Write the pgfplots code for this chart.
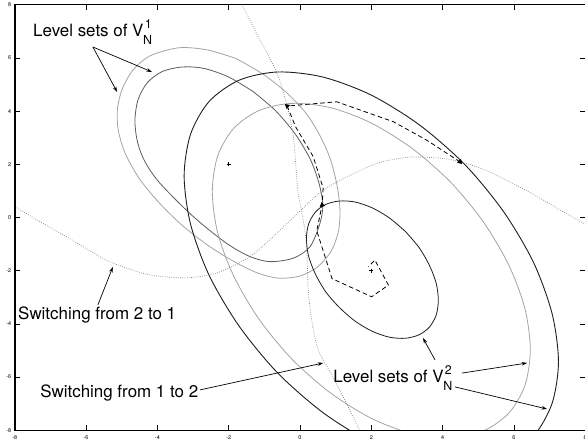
\documentclass[border=0pt]{standalone}
\usepackage{fontspec}
\setmainfont{TeX Gyre Heros}
\usepackage{pgfplots}
\pgfplotsset{compat=1.18}
\usetikzlibrary{arrows.meta}

\definecolor{darkline}{gray}{0.12}
\definecolor{midline}{gray}{0.36}
\definecolor{lightline}{gray}{0.64}
\definecolor{dotline}{gray}{0.50}

% label with stacked super/subscript, as V^k_N
\newcommand{\VN}[1]{V\kern-0.3bp\rlap{\hspace{1.6bp}\raisebox{8.4bp}{\fontsize{12.5}{14}\selectfont #1}}\raisebox{-7.6bp}{\fontsize{12.5}{14}\selectfont N}}
\tikzset{annot/.style={font=\fontsize{17}{20}\selectfont, anchor=base west, inner sep=0pt},
         pointer/.style={black, line width=0.7bp, -{Stealth[length=5.5bp,width=3.6bp]}}}

\begin{document}
\begin{tikzpicture}[x=1bp,y=1bp]
\begin{axis}[
  anchor=south west,
  scale only axis, width=570.4bp, height=425.6bp,
  xmin=-8, xmax=8, ymin=-8, ymax=8,
  xtick={-8,-6,...,8}, ytick={-8,-6,...,8},
  tick align=inside, major tick length=5bp,
  every tick/.style={black, line width=0.6bp},
  ticklabel style={font=\fontsize{5.5}{6}\selectfont},
  xticklabel style={yshift=-1.5bp},
  /pgf/number format/assume math mode=true,
  axis line style={line width=0.7bp},
]

% level sets of V_N^1 (centre (-2,2))
\addplot[lightline, line width=0.8bp, smooth] coordinates {
 (-1.80,5.98) (-1.05,5.40) (-0.40,4.72) (0.15,3.95) (0.55,3.10) (0.85,2.20)
 (1.04,1.20) (1.12,0.30) (1.08,-0.50) (0.88,-1.25) (0.50,-1.85)
 (0.00,-2.20) (-0.60,-2.28) (-1.20,-2.08) (-1.90,-1.62) (-2.60,-1.03)
 (-3.30,-0.30) (-3.95,0.55) (-4.50,1.45) (-4.90,2.40) (-5.10,3.30)
 (-5.12,4.10) (-4.98,4.85) (-4.68,5.55) (-4.20,6.08) (-3.40,6.38)
 (-2.60,6.30) (-1.80,5.98)};
\addplot[midline, line width=0.8bp, smooth] coordinates {
 (-1.32,4.74) (-0.69,4.02) (-0.14,3.15) (0.28,2.21) (0.52,1.35) (0.64,0.50)
 (0.56,-0.22) (0.28,-1.10) (-0.19,-1.53) (-0.84,-1.66) (-1.40,-1.47)
 (-2.06,-0.97) (-2.99,0.03) (-3.93,1.29) (-4.35,2.10) (-4.56,2.85)
 (-4.63,3.65) (-4.54,4.44) (-4.28,5.07) (-3.86,5.49) (-3.28,5.66)
 (-2.68,5.60) (-2.00,5.28) (-1.32,4.74)};

% level sets of V_N^2 (centre (2,-2))
\addplot[darkline, line width=0.8bp, smooth] coordinates {
 (2.96,-0.53) (2.51,-0.02) (2.03,0.36) (1.55,0.58) (1.11,0.62) (0.72,0.49)
 (0.43,0.20) (0.24,-0.25) (0.18,-0.81) (0.24,-1.45) (0.43,-2.12)
 (0.72,-2.79) (1.11,-3.39) (1.55,-3.90) (2.03,-4.28) (2.51,-4.50)
 (2.96,-4.54) (3.34,-4.41) (3.63,-4.12) (3.82,-3.67) (3.88,-3.11)
 (3.82,-2.47) (3.63,-1.80) (3.34,-1.13) (2.96,-0.53)};
\addplot[lightline, line width=0.8bp, smooth] coordinates {
 (4.23,-8.29) (5.15,-8.02) (5.86,-7.35) (6.31,-6.31) (6.46,-4.97)
 (6.31,-3.43) (5.86,-1.80) (5.15,-0.18) (4.23,1.32) (3.15,2.59)
 (2.00,3.55) (0.85,4.13) (-0.23,4.29) (-1.15,4.02) (-1.86,3.35)
 (-2.31,2.31) (-2.46,0.97) (-2.31,-0.57) (-1.86,-2.20) (-1.15,-3.82)
 (-0.23,-5.32) (0.85,-6.59) (2.00,-7.55) (3.15,-8.13) (4.23,-8.29)};
\addplot[darkline, line width=0.9bp, smooth] coordinates {
 (4.63,-9.33) (5.71,-9.02) (6.55,-8.22) (7.07,-6.99) (7.25,-5.42)
 (7.07,-3.61) (6.55,-1.69) (5.71,0.22) (4.63,1.98) (3.36,3.47)
 (2.00,4.60) (0.64,5.28) (-0.63,5.47) (-1.71,5.16) (-2.55,4.36)
 (-3.07,3.13) (-3.25,1.56) (-3.07,-0.25) (-2.55,-2.17) (-1.71,-4.08)
 (-0.63,-5.84) (0.64,-7.33) (2.00,-8.46) (3.36,-9.14) (4.63,-9.33)};

% switching curves
\addplot[dotline, line width=0.7bp, dash pattern=on 0.7bp off 1.5bp, smooth] coordinates {
 (-8.00,0.41) (-7.30,-0.15) (-6.54,-0.73) (-5.90,-1.25) (-5.33,-1.67)
 (-4.40,-2.10) (-3.70,-2.24) (-2.99,-2.25) (-2.24,-2.04) (-1.40,-1.47)
 (-0.65,-0.59) (0.00,0.25) (0.65,1.03) (1.40,1.58) (2.20,2.05)
 (3.09,2.27) (4.01,2.22) (4.49,2.09) (5.05,1.86) (5.61,1.53)
 (6.20,1.12) (6.82,0.66) (7.40,0.20) (8.00,-0.25)};
\addplot[dotline, line width=0.7bp, dash pattern=on 0.7bp off 1.5bp, smooth] coordinates {
 (-1.63,8.00) (-1.12,6.67) (-0.65,5.43) (-0.36,4.19) (-0.18,3.00)
 (-0.12,2.00) (-0.06,1.00) (0.05,0.20) (0.15,-0.60) (0.20,-1.50)
 (0.22,-2.50) (0.28,-3.40) (0.40,-4.40) (0.55,-5.10) (0.80,-5.70)
 (1.21,-6.75) (1.63,-7.88) (1.67,-8.00)};

% closed-loop trajectory
\addplot[black, line width=0.8bp, dash pattern=on 4.5bp off 3bp] coordinates {
 (4.49,2.09) (3.55,2.91) (2.62,3.60) (1.03,4.35) (-0.36,4.19) (-0.12,3.40)
 (0.37,2.29) (0.65,1.10) (0.62,0.47) (0.47,-0.50) (0.90,-2.30)
 (2.01,-2.98) (2.48,-2.54) (2.10,-1.60) (1.92,-1.85)};
\addplot[black, only marks, mark=triangle*, mark size=2.6bp, mark options={rotate=-135}] coordinates {(4.49,2.09)};
\addplot[black, only marks, mark=triangle*, mark size=2.6bp, mark options={rotate=50}] coordinates {(-0.36,4.19)};
\addplot[black, only marks, mark=triangle*, mark size=2.6bp, mark options={rotate=10}] coordinates {(0.62,0.47)};

% equilibria
\addplot[black, only marks, mark=+, mark size=2bp, mark options={line width=0.5bp}] coordinates {(-2,2) (2,-2)};

% annotations
\node[annot] at (axis cs:-7.49,6.80) {Level sets of \VN{1}};
\draw[pointer] (axis cs:-5.81,6.41) -- (axis cs:-4.15,5.47);
\draw[pointer] (axis cs:-5.81,6.41) -- (axis cs:-5.13,4.72);

\node[annot] at (axis cs:-7.91,-3.85) {Switching from 2 to 1};
\draw[pointer] (axis cs:-5.67,-3.29) -- (axis cs:-5.25,-1.86);

\node[annot] at (axis cs:-7.29,-6.76) {Switching from 1 to 2};
\draw[pointer] (axis cs:-2.80,-6.48) -- (axis cs:0.65,-5.47);

\node[annot] at (axis cs:0.93,-6.21) {Level sets of \VN{2}};
\draw[pointer] (axis cs:3.79,-5.36) -- (axis cs:3.45,-4.53);
\draw[pointer] (axis cs:4.54,-5.85) -- (axis cs:6.37,-5.47);
\draw[pointer] (axis cs:4.35,-6.37) -- (axis cs:6.93,-7.20);
\end{axis}
\draw[line width=1.4bp] (current axis.north west) -- (current axis.south west) -- (current axis.south east);
\pgfresetboundingbox
\useasboundingbox (-14.8,-10.7) rectangle (570.2,430.3);
\end{tikzpicture}
\end{document}
